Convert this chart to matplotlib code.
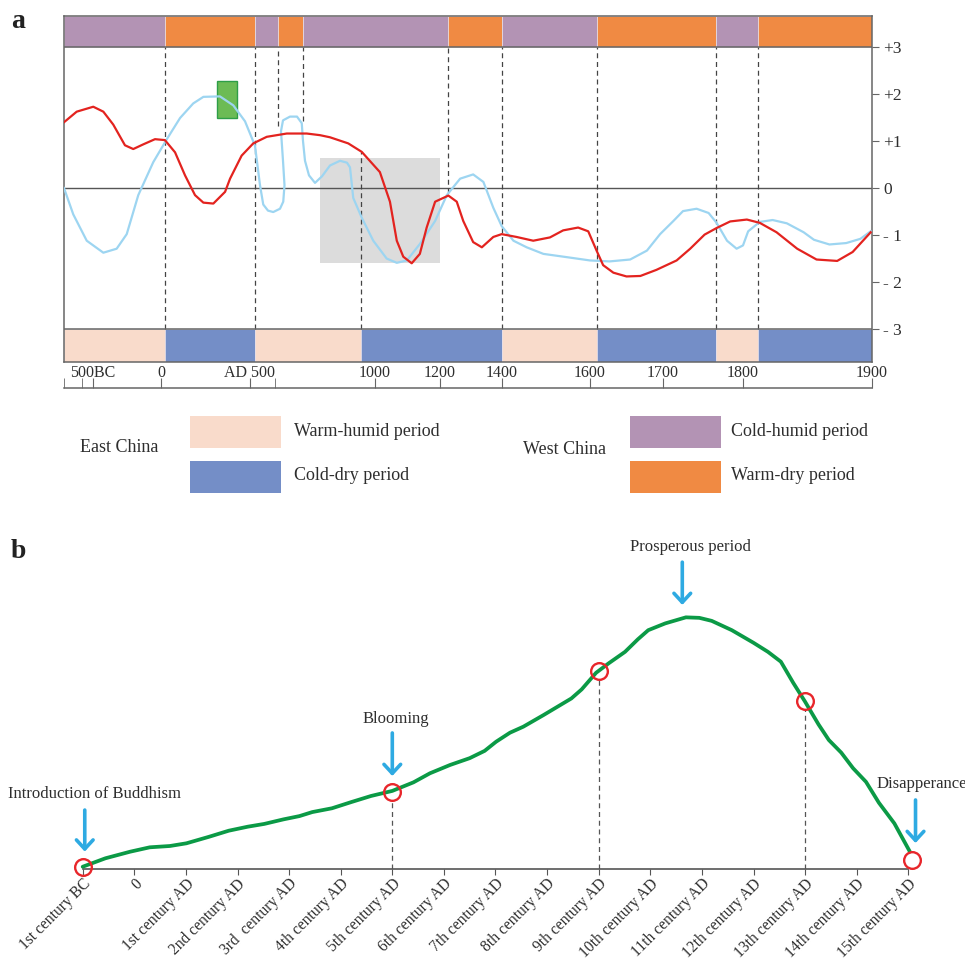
import numpy as np
import matplotlib
matplotlib.use("Agg")
import matplotlib.pyplot as plt
from matplotlib.patches import Rectangle

plt.rcParams["font.family"] = ["Liberation Serif", "DejaVu Serif"]

W = H = 965
TXT = "#2e2e2e"
GRID = "#666666"

# ---- panel a: time axis is piecewise in the original figure
YEAR_KNOTS = [-800, -600, -500, 0, 500, 1000, 1200, 1400, 1600, 1700, 1800, 1900]
POS_KNOTS = [64, 82, 93, 161, 250, 375, 440, 502, 590, 663, 743, 872]

MAJOR_YEARS = [-500, 0, 500, 1000, 1200, 1400, 1600, 1700, 1800, 1900]
MAJOR_LABELS = ["500BC", "0", "AD 500", "1000", "1200", "1400", "1600", "1700", "1800", "1900"]
MINOR_YEARS = [-800, -600, 600]

Y_TICKS = [3, 2, 1, 0, -1, -2, -3]
Y_LABELS = ["+3", "+2", "+1", "0", "- 1", "- 2", "- 3"]

red_year = [-800, -659, -498, -424, -351, -265, -204, -130, -44, 22, 79, 135, 191, 238, 294,
            360, 388, 453, 513, 567, 647, 727, 780, 820, 893, 947, 1015, 1046, 1067, 1087,
            1113, 1138, 1159, 1185, 1227, 1254, 1275, 1307, 1335, 1372, 1399, 1433, 1471,
            1509, 1539, 1573, 1596, 1609, 1618, 1632, 1650, 1669, 1691, 1717, 1734, 1752,
            1767, 1784, 1803, 1813, 1826, 1842, 1857, 1873, 1885, 1899]
red_val = [1.40, 1.625, 1.73, 1.625, 1.35, 0.91, 0.83, 0.93, 1.04, 1.02, 0.76, 0.27, -0.15,
           -0.31, -0.33, -0.08, 0.20, 0.69, 0.95, 1.09, 1.16, 1.16, 1.125, 1.08, 0.95, 0.77,
           0.34, -0.29, -1.12, -1.46, -1.60, -1.40, -0.84, -0.29, -0.16, -0.29, -0.70, -1.15,
           -1.26, -1.04, -0.98, -1.04, -1.12, -1.05, -0.90, -0.84, -0.92, -1.33, -1.64, -1.80,
           -1.88, -1.87, -1.74, -1.54, -1.29, -0.99, -0.85, -0.71, -0.67, -0.74, -0.94, -1.29,
           -1.52, -1.55, -1.36, -0.94]

blue_year = [-800, -697, -557, -424, -326, -252, -167, -57, 32, 107, 181, 238, 331, 406, 472,
             520, 540, 553, 572, 593, 620, 633, 638, 632, 624, 632, 660, 688, 707, 712, 720,
             736, 760, 788, 820, 860, 888, 900, 913, 947, 993, 1036, 1067, 1098, 1138, 1185,
             1222, 1265, 1307, 1340, 1372, 1399, 1426, 1456, 1494, 1555, 1600, 1627, 1655,
             1678, 1696, 1713, 1725, 1742, 1757, 1767, 1780, 1792, 1800, 1804, 1813, 1823,
             1834, 1847, 1855, 1867, 1880, 1891, 1899]
blue_val = [0.0, -0.56, -1.12, -1.375, -1.29, -0.98, -0.15, 0.55, 1.035, 1.49, 1.80, 1.94,
            1.95, 1.76, 1.42, 0.90, 0.06, -0.35, -0.48, -0.51, -0.44, -0.29, 0.06, 0.58, 1.21,
            1.44, 1.52, 1.52, 1.38, 1.0, 0.58, 0.27, 0.11, 0.25, 0.48, 0.58, 0.54, 0.44, -0.21,
            -0.63, -1.12, -1.5, -1.59, -1.54, -1.19, -0.70, -0.15, 0.20, 0.29, 0.13, -0.42,
            -0.81, -1.12, -1.26, -1.40, -1.48, -1.54, -1.56, -1.52, -1.33, -0.98, -0.70, -0.49,
            -0.44, -0.53, -0.74, -1.12, -1.29, -1.22, -0.92, -0.72, -0.68, -0.75, -0.94, -1.10,
            -1.20, -1.17, -1.08, -0.92]

WEST_EDGES = [-800, 22, 518, 612, 712, 1226, 1400, 1610, 1766, 1812, 1900]
WEST_KIND = ["cold-humid", "warm-dry", "cold-humid", "warm-dry", "cold-humid",
             "warm-dry", "cold-humid", "warm-dry", "cold-humid", "warm-dry"]
EAST_EDGES = [-800, 22, 518, 944, 1400, 1610, 1766, 1812, 1900]
EAST_KIND = ["warm-humid", "cold-dry", "warm-humid", "cold-dry",
             "warm-humid", "cold-dry", "warm-humid", "cold-dry"]

# boundary lines: year, lower end, upper end
DASH_YEAR = [22, 518, 612, 712, 944, 1226, 1400, 1610, 1766, 1812]
DASH_LOW = [-3, -3, 1.31, 1.42, -3, -0.1, -3, -3, -3, -3]
DASH_HIGH = [3, 3, 3, 3, 0.76, 3, 3, 3, 3, 3]

GREEN_BOX = (315, 425, 1.5, 2.27)
GRAY_BOX = (780, 1200, -1.6, 0.65)

COLORS = {"warm-humid": "#f9dbcb", "cold-dry": "#748ec7",
          "cold-humid": "#b393b4", "warm-dry": "#f08a43"}
EAST_LEGEND = [("warm-humid", "Warm-humid period"), ("cold-dry", "Cold-dry period")]
WEST_LEGEND = [("cold-humid", "Cold-humid period"), ("warm-dry", "Warm-dry period")]

# ---- panel b
CENTURIES = ["1st century BC", "0", "1st century AD", "2nd century AD", "3rd  century AD",
             "4th century AD", "5th century AD", "6th century AD", "7th century AD",
             "8th century AD", "9th century AD", "10th century AD", "11th century AD",
             "12th century AD", "13th century AD", "14th century AD", "15th century AD"]
spread_x = [0, 0.44, 0.92, 1.30, 1.69, 2.01, 2.45, 2.83, 3.20, 3.52, 3.89, 4.20, 4.45, 4.83,
            5.21, 5.59, 6.0, 6.41, 6.73, 7.12, 7.50, 7.79, 8.01, 8.28, 8.54, 8.93, 9.20, 9.47,
            9.67, 9.95, 10.19, 10.51, 10.76, 10.96, 11.29, 11.69, 11.95, 12.19, 12.58, 13.0,
            13.28, 13.53, 13.77, 14.0, 14.26, 14.46, 14.70, 14.93, 15.18, 15.43, 15.73, 16.03]
spread_y = [0.9, 4.25, 6.87, 8.61, 9.13, 10.2, 12.8, 15.2, 16.8, 17.9, 19.7, 21.0, 22.6, 24.1,
            26.6, 29.0, 31.0, 34.4, 38.0, 41.3, 44.0, 46.9, 50.5, 54.1, 56.5, 61.1, 64.4, 67.7,
            71.3, 77.9, 81.6, 86.2, 91.2, 94.8, 97.5, 99.9, 99.7, 98.5, 94.8, 89.8, 86.2, 82.3,
            73.9, 66.4, 57.4, 51.2, 46.2, 40.0, 34.6, 26.3, 18.1, 6.9]
EVENT_X = [0, 6, 10, 14, 16.08]
EVENT_Y = [0.7, 30.7, 78.5, 66.7, 3.6]
DROP_EVENTS = [1, 2, 3]

NOTE_TEXT = ["Introduction of Buddhism", "Blooming", "Prosperous period", "Disapperance"]
NOTE_X = [0.22, 6.06, 11.78, 15.38]
NOTE_Y = [29.8, 59.5, 127.8, 33.7]
NOTE_HA = ["center", "center", "center", "left"]
ARROW_X = [0.04, 6.0, 11.62, 16.14]
ARROW_TAIL = [23.4, 54.0, 121.8, 27.4]
ARROW_TIP = [6.9, 36.9, 104.8, 10.3]


def px_box(left, top, right, bottom):
    return [left / W, 1 - bottom / H, (right - left) / W, (bottom - top) / H]


def fwd(x):
    return np.interp(x, YEAR_KNOTS, POS_KNOTS)


def inv(p):
    return np.interp(p, POS_KNOTS, YEAR_KNOTS)


fig = plt.figure(figsize=(W / 100, H / 100), dpi=100)

# ================= panel a =================
ax = fig.add_axes(px_box(64, 16, 872, 362))
ax.set_xscale("function", functions=(fwd, inv))
ax.set_xlim(-800, 1900)
ax.set_ylim(-3.70, 3.66)

spans = lambda e: [(a, b - a) for a, b in zip(e[:-1], e[1:])]
ax.broken_barh(spans(WEST_EDGES), (3, 0.66), facecolors=[COLORS[k] for k in WEST_KIND],
               edgecolor="#e8e0e8", linewidth=0.5, zorder=1)
ax.broken_barh(spans(EAST_EDGES), (-3.70, 0.70), facecolors=[COLORS[k] for k in EAST_KIND],
               edgecolor="#e8e0e8", linewidth=0.5, zorder=1)
ax.axhline(3, color=GRID, lw=1.1, zorder=3)
ax.axhline(-3, color=GRID, lw=1.1, zorder=3)
ax.axhline(0, color="#555555", lw=1.0, zorder=2)

x0, x1, y0, y1 = GRAY_BOX
ax.add_patch(Rectangle((x0, y0), x1 - x0, y1 - y0, facecolor="#dcdcdc", edgecolor="none", zorder=1))
x0, x1, y0, y1 = GREEN_BOX
ax.add_patch(Rectangle((x0, y0), x1 - x0, y1 - y0, facecolor="#6cbb55", edgecolor="#2e9e48",
                       lw=1.0, zorder=4))

ax.vlines(DASH_YEAR, DASH_LOW, DASH_HIGH, colors="#444444", linestyles=(0, (4, 3)),
          lw=0.9, zorder=2)

ax.plot(blue_year, blue_val, color="#9dd5f1", lw=1.6, zorder=5)
ax.plot(red_year, red_val, color="#e3231f", lw=1.6, zorder=6)

for s in ax.spines.values():
    s.set_color(GRID)
    s.set_linewidth(1.1)
ax.set_xticks([])
ax.set_xticks([], minor=True)
ax.yaxis.tick_right()
ax.set_yticks(Y_TICKS)
ax.set_yticklabels(Y_LABELS)
ax.tick_params(axis="y", direction="out", length=5, color=GRID, labelsize=12.5,
               labelcolor=TXT, pad=3)

# time axis under the bands
axt = fig.add_axes(px_box(64, 387.5, 872, 388))
axt.set_xscale("function", functions=(fwd, inv))
axt.set_xlim(-800, 1900)
axt.patch.set_visible(False)
for name, s in axt.spines.items():
    s.set_visible(name == "top")
axt.spines["top"].set_color(GRID)
axt.spines["top"].set_linewidth(1.1)
axt.set_yticks([])
axt.set_xticks(MAJOR_YEARS)
axt.set_xticklabels(MAJOR_LABELS)
axt.set_xticks(MINOR_YEARS, minor=True)
axt.tick_params(axis="x", which="both", top=True, bottom=False, labeltop=True,
                labelbottom=False, direction="out", length=7, color=GRID,
                labelsize=11.5, labelcolor=TXT, pad=-2)

# legend
def legend_group(title, title_xy, entries, box_left, text_left):
    fig.text(title_xy[0] / W, 1 - title_xy[1] / H, title, fontsize=13, color=TXT, va="center")
    for i, (kind, label) in enumerate(entries):
        top = 416 + i * 45
        fig.add_artist(Rectangle((box_left / W, 1 - (top + 32) / H), 91 / W, 32 / H,
                                 transform=fig.transFigure, facecolor=COLORS[kind],
                                 edgecolor="none"))
        fig.text(text_left / W, 1 - (top + 15) / H, label, fontsize=13, color=TXT, va="center")


legend_group("East China", (80, 447), EAST_LEGEND, 190, 294)
legend_group("West China", (523, 450), WEST_LEGEND, 630, 731)

fig.text(11 / W, 1 - 22 / H, "a", fontsize=20, fontweight="bold", color="#222222", va="center")
fig.text(11 / W, 1 - 552 / H, "b", fontsize=20, fontweight="bold", color="#222222", va="center")

# ================= panel b =================
axb = fig.add_axes(px_box(82.7, 540, 908.3, 869))
axb.set_xlim(0, 16)
axb.set_ylim(0, 130.6)

for i in DROP_EVENTS:
    axb.vlines(EVENT_X[i], 0, EVENT_Y[i] - 3.2, colors="#555555", linestyles=(0, (4, 3)), lw=0.9)
axb.plot(spread_x, spread_y, color="#0b9a46", lw=2.7, solid_capstyle="round", clip_on=False, zorder=3)
axb.plot(EVENT_X, EVENT_Y, "o", mfc="none", mec="#e8262b", ms=12, mew=1.7, clip_on=False, zorder=4)

for x, tail, tip in zip(ARROW_X, ARROW_TAIL, ARROW_TIP):
    axb.annotate("", xy=(x, tip), xytext=(x, tail), annotation_clip=False,
                 arrowprops=dict(arrowstyle="->,head_length=0.65,head_width=0.6",
                                 color="#2eaae2", lw=2.6, shrinkA=0, shrinkB=0))
for t, x, y, ha in zip(NOTE_TEXT, NOTE_X, NOTE_Y, NOTE_HA):
    axb.text(x, y, t, fontsize=12, color=TXT, ha=ha, va="center", clip_on=False)

for name, s in axb.spines.items():
    s.set_visible(name == "bottom")
axb.spines["bottom"].set_color("#555555")
axb.spines["bottom"].set_linewidth(1.2)
axb.set_yticks([])
axb.set_xticks(range(len(CENTURIES)))
axb.set_xticklabels(CENTURIES, rotation=45, ha="right", va="top", rotation_mode="anchor")
axb.tick_params(axis="x", direction="out", length=4, color="#555555", labelsize=11.2,
                labelcolor=TXT, pad=1)

fig.savefig("out.png", dpi=100)
plt.close(fig)
